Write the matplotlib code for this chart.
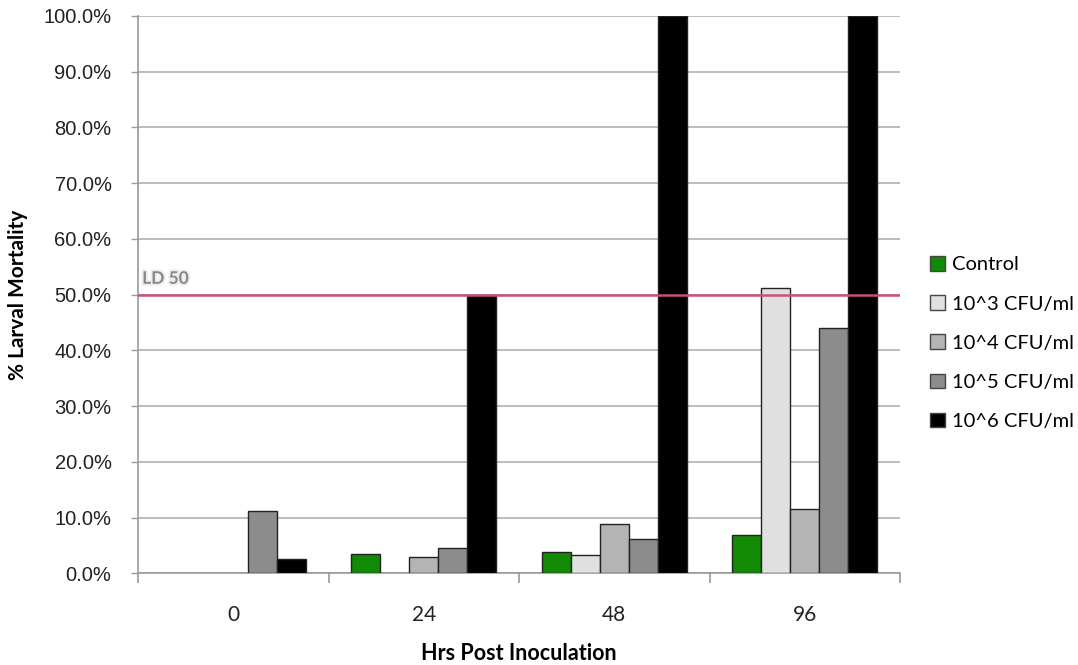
import matplotlib.pyplot as plt
import matplotlib.patheffects as pe
from matplotlib.patches import Patch
import numpy as np

plt.rcParams['font.family'] = ['Lato', 'DejaVu Sans']

hours = ['0', '24', '48', '96']
series = ['Control', '10^3 CFU/ml', '10^4 CFU/ml', '10^5 CFU/ml', '10^6 CFU/ml']
mortality = {
    'Control':     [0.0, 3.4, 3.8, 6.8],
    '10^3 CFU/ml': [0.0, 0.0, 3.3, 51.2],
    '10^4 CFU/ml': [0.0, 2.9, 8.8, 11.6],
    '10^5 CFU/ml': [11.1, 4.5, 6.1, 44.0],
    '10^6 CFU/ml': [2.5, 50.0, 100.0, 100.0],
}
colors = ['#128a06', '#e0e0e0', '#b4b4b4', '#8c8c8c', '#000000']
ld50 = 50.0

fig = plt.figure(figsize=(10.78, 6.65), dpi=100)
ax = fig.add_axes([0.128, 0.138, 0.707, 0.838])

x = np.arange(len(hours))
width = 0.152
for i, name in enumerate(series):
    offs = (i - 2) * width
    bars = ax.bar(x + offs, mortality[name], width, color=colors[i],
                  edgecolor='#222222', linewidth=1.0, zorder=3)
    # empty bars leave no outline on the axis
    for b, v in zip(bars, mortality[name]):
        if v == 0:
            b.set_visible(False)

ax.set_xlim(-0.5, len(hours) - 0.5)
ax.set_ylim(0, 100)
yt = np.arange(0, 101, 10)
ax.set_yticks(yt)
ax.set_yticklabels([f'{v:.1f}%' for v in yt], fontsize=14.5,
                   color='#222222', family='Liberation Sans')
ax.yaxis.grid(True, color='#b0b0b0', linewidth=1.2, zorder=0)
ax.tick_params(axis='y', length=5, color='#999999', width=1, pad=14)

# category labels at centers, tick marks on the group boundaries
ax.set_xticks(x)
ax.set_xticklabels(hours, fontsize=15, color='#222222')
ax.tick_params(axis='x', length=0, pad=23)
ax.set_xticks(np.arange(-0.5, len(hours)), minor=True)
ax.tick_params(axis='x', which='minor', length=7, color='#999999', width=1.2)

for s in ['top', 'right']:
    ax.spines[s].set_visible(False)
for s in ['left', 'bottom']:
    ax.spines[s].set_color('#999999')
    ax.spines[s].set_linewidth(1.2)

ax.axhline(ld50, color='#c8507a', linewidth=1.8, zorder=4)
ax.text(-0.478, ld50 + 1.4, 'LD 50', fontsize=12.5, color='#888888', fontweight='bold',
        va='bottom', ha='left', zorder=5,
        path_effects=[pe.withStroke(linewidth=3, foreground='#eeeeee')])

# axis titles placed directly in figure coordinates
fig.text(0.4815, 0.018, 'Hrs Post Inoculation', fontsize=15.5, fontweight='bold',
         ha='center', va='center')
fig.text(0.017, 0.556, '% Larval Mortality', fontsize=15, fontweight='bold',
         ha='center', va='center', rotation=90)

handles = [Patch(facecolor=c, edgecolor='#444444', linewidth=1.0) for c in colors]
ax.legend(handles, series, loc='center left', bbox_to_anchor=(1.028, 0.413),
          frameon=False, fontsize=14.5, handlelength=0.75, handleheight=0.75,
          handletextpad=0.35, labelspacing=1.08, borderaxespad=0)

fig.savefig('out.png', dpi=100)
